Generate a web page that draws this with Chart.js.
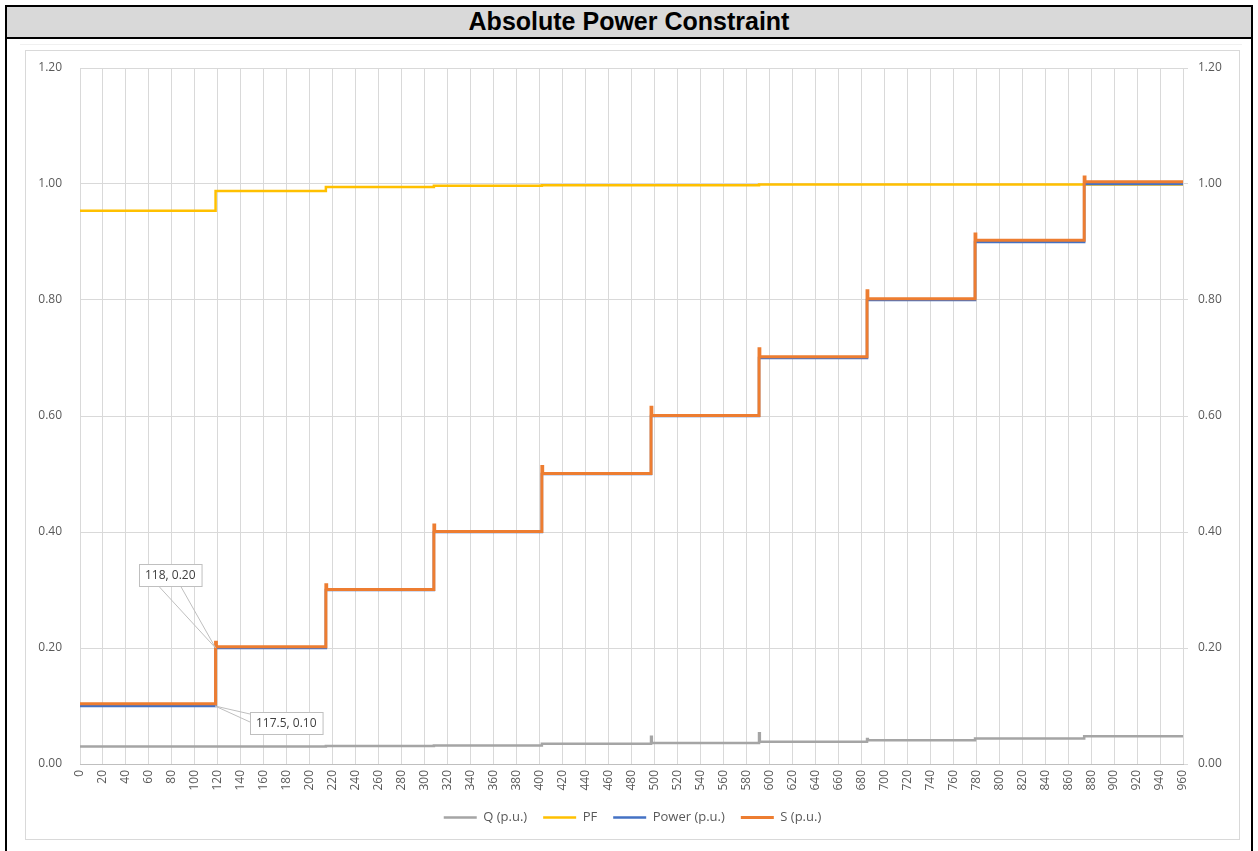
<!DOCTYPE html>
<html>
<head>
<meta charset="utf-8">
<script src="https://cdn.jsdelivr.net/npm/chart.js@4"></script>
<style>
  body { margin: 0; background: #fff; }
  #frame { position: absolute; left: 5px; top: 5px; width: 1244px; height: 860px; border: 2px solid #000; }
  #title { height: 30px; line-height: 34px; background: #d9d9d9; border-bottom: 2px solid #000;
           text-align: center; font: bold 25px "Liberation Sans", Arial, sans-serif; color: #000; }
  #outer { position: absolute; left: 20px; top: 44px; width: 1222px; height: 820px; border-top: 1px solid #f0f0f0; }
  #box { position: absolute; left: 25px; top: 50px; width: 1213px; height: 788px; border: 1px solid #d9d9d9; }
  #chart { position: absolute; left: 25px; top: 50px; }
</style>
</head>
<body>
<div id="frame"><div id="title">Absolute Power Constraint</div></div>
<div id="outer"></div>
<div id="box"></div>
<canvas id="chart" width="1215" height="790"></canvas>
<script>
// Data
const stepStart = [0, 118, 214, 308, 402, 497, 591, 685, 779, 874];
const xEnd = 960;
const powerPU = [0.100, 0.200, 0.300, 0.400, 0.500, 0.600, 0.700, 0.800, 0.900, 1.000];
const sPU = [0.104, 0.202, 0.301, 0.401, 0.501, 0.601, 0.702, 0.802, 0.903, 1.004];
const sPeak = [null, 0.210, 0.309, 0.412, 0.513, 0.615, 0.716, 0.816, 0.914, 1.012];
const pfValues = [0.954, 0.988, 0.995, 0.997, 0.998, 0.998, 0.999, 0.999, 0.999, 0.999];
const qPU = [0.030, 0.030, 0.031, 0.032, 0.035, 0.036, 0.0385, 0.041, 0.044, 0.048];
const qPeak = [null, null, null, null, null, 0.047, 0.053, 0.043, null, null];
const yTicks = [0, 0.2, 0.4, 0.6, 0.8, 1.0, 1.2];

// Data callouts
const calloutText = ['118, 0.20', '117.5, 0.10'];
const calloutX = [118, 117.5];
const calloutY = [0.20, 0.10];

const tickFont = { family: 'Open Sans', size: 12 };
const tickColor = '#595959';
const gridColor = '#d9d9d9';

// Build step points: each value starts at its step, with an optional short spike
function buildSteps(vals, peaks) {
  const pts = [];
  vals.forEach((v, i) => {
    if (peaks && peaks[i] != null) {
      pts.push({ x: stepStart[i], y: peaks[i] });
      pts.push({ x: stepStart[i] + 0.7, y: v });
    } else {
      pts.push({ x: stepStart[i], y: v });
    }
  });
  pts.push({ x: xEnd, y: vals[vals.length - 1] });
  return pts;
}

// Callout boxes with a wedge pointer
const calloutPlugin = {
  id: 'callouts',
  afterDatasetsDraw(chart) {
    const ctx = chart.ctx;
    const xs = chart.scales.x, ys = chart.scales.y;
    const layout = [
      { dx: -45, dy: -73, side: 'bottom' },
      { dx: 71, dy: 17, side: 'left' }
    ];
    ctx.save();
    ctx.font = '12px "Open Sans"';
    calloutText.forEach((t, i) => {
      const ax = xs.getPixelForValue(calloutX[i]);
      const ay = ys.getPixelForValue(calloutY[i]);
      const w = ctx.measureText(t).width + 12;
      const h = 22;
      const cx = ax + layout[i].dx, cy = ay + layout[i].dy;
      const bx = Math.round(cx - w / 2), by = Math.round(cy - h / 2);
      ctx.strokeStyle = '#bfbfbf';
      ctx.lineWidth = 1;
      ctx.beginPath();
      if (layout[i].side === 'bottom') {
        ctx.moveTo(cx - 12, by + h);
        ctx.lineTo(ax, ay);
        ctx.lineTo(cx + 10, by + h);
      } else {
        ctx.moveTo(bx, by + 2);
        ctx.lineTo(ax, ay);
        ctx.lineTo(bx, by + 10);
      }
      ctx.stroke();
      ctx.fillStyle = '#fff';
      ctx.fillRect(bx, by, w, h);
      ctx.strokeRect(bx + 0.5, by + 0.5, w, h);
      ctx.fillStyle = '#404040';
      ctx.textAlign = 'center';
      ctx.textBaseline = 'middle';
      ctx.fillText(t, bx + w / 2, by + h / 2 + 1);
    });
    ctx.restore();
  }
};

const yTickOpts = {
  stepSize: 0.2,
  font: tickFont,
  color: tickColor,
  callback: (v) => v.toFixed(2)
};

// fixed axis width, and no extra vertical padding from the tick labels
function fitY(width) {
  return (s) => { s.width = width; s.paddingTop = 0; s.paddingBottom = 0; };
}

new Chart(document.getElementById('chart'), {
  type: 'line',
  data: {
    datasets: [
      { label: 'Q (p.u.)', data: buildSteps(qPU, qPeak), borderColor: '#a5a5a5', backgroundColor: '#a5a5a5', borderWidth: 2.5, order: 4 },
      { label: 'PF', data: buildSteps(pfValues), borderColor: '#ffc000', backgroundColor: '#ffc000', borderWidth: 2.5, order: 3 },
      { label: 'Power (p.u.)', data: buildSteps(powerPU), borderColor: '#4472c4', backgroundColor: '#4472c4', borderWidth: 2.5, order: 2 },
      { label: 'S (p.u.)', data: buildSteps(sPU, sPeak), borderColor: '#ed7d31', backgroundColor: '#ed7d31', borderWidth: 3, order: 1 }
    ]
  },
  options: {
    responsive: false,
    animation: false,
    devicePixelRatio: 1,
    elements: { point: { radius: 0 }, line: { stepped: true, tension: 0 } },
    layout: { padding: { left: 10, right: 10, top: 18, bottom: 6 } },
    scales: {
      x: {
        type: 'linear', min: 0, max: xEnd,
        ticks: { stepSize: 20, autoSkip: false, maxRotation: 90, minRotation: 90, font: tickFont, color: tickColor, padding: 6 },
        grid: { color: gridColor, drawTicks: false },
        border: { color: '#bfbfbf' },
        afterFit: (s) => { s.height = 31; }
      },
      y: {
        position: 'left', min: 0, max: 1.2,
        afterBuildTicks: (s) => { s.ticks = yTicks.map((v) => ({ value: v })); },
        ticks: Object.assign({ padding: 18 }, yTickOpts),
        grid: { color: gridColor, drawTicks: false },
        border: { display: false },
        afterFit: fitY(45)
      },
      y2: {
        position: 'right', min: 0, max: 1.2,
        afterBuildTicks: (s) => { s.ticks = yTicks.map((v) => ({ value: v })); },
        ticks: Object.assign({ padding: 10 }, yTickOpts),
        grid: { color: gridColor, drawOnChartArea: false, drawTicks: true, tickLength: 5 },
        border: { display: false },
        afterFit: fitY(47)
      }
    },
    plugins: {
      legend: {
        position: 'bottom',
        labels: {
          usePointStyle: true, pointStyle: 'line', pointStyleWidth: 33,
          font: { family: 'Open Sans', size: 13 }, color: tickColor, padding: 16,
          sort: (a, b) => a.datasetIndex - b.datasetIndex
        }
      },
      tooltip: { enabled: false }
    }
  },
  plugins: [calloutPlugin]
});
</script>
</body>
</html>
